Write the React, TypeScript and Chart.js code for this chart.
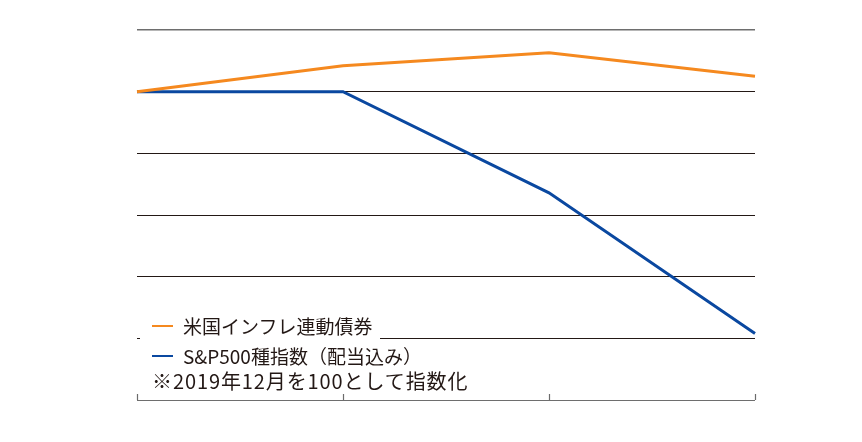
import React, { useEffect, useRef } from "react";
import { Chart, registerables } from "chart.js";

Chart.register(...registerables);

const categories = ["2019/12", "2020/12", "2021/12", "2022/12"];
const tipsValues = [100, 104.2, 106.3, 102.5];
const spValues = [100, 100, 83.6, 60.8];
const yMin = 50;
const yMax = 110;
const yStep = 10;
const tipsLabel = "米国インフレ連動債券";
const spLabel = "S&P500種指数（配当込み）";
const noteText = "※2019年12月を100として指数化";

const ORANGE = "#F5891F";
const BLUE = "#0A48A0";

const upTicks = {
  id: "upTicks",
  afterDraw(chart: any) {
    const x = chart.scales.x;
    const { ctx, chartArea } = chart;
    ctx.save();
    ctx.strokeStyle = "#6b6b6b";
    ctx.lineWidth = 1.2;
    categories.forEach((_, i) => {
      const px = Math.round(x.getPixelForValue(i)) + 0.5;
      ctx.beginPath();
      ctx.moveTo(px, chartArea.bottom);
      ctx.lineTo(px, chartArea.bottom - 6);
      ctx.stroke();
    });
    ctx.restore();
  },
};

export default function App() {
  const ref = useRef<HTMLCanvasElement>(null);
  useEffect(() => {
    const chart = new Chart(ref.current!, {
      type: "line",
      data: {
        labels: categories,
        datasets: [
          { label: tipsLabel, data: tipsValues, borderColor: ORANGE, borderWidth: 3, pointRadius: 0, tension: 0 },
          { label: spLabel, data: spValues, borderColor: BLUE, borderWidth: 3, pointRadius: 0, tension: 0 },
        ],
      },
      options: {
        animation: false,
        responsive: false,
        layout: { padding: { left: 137, right: 107, top: 30, bottom: 42 } },
        plugins: { legend: { display: false }, tooltip: { enabled: false } },
        scales: {
          x: {
            offset: false,
            ticks: { display: false },
            grid: { display: false, drawTicks: false },
            border: { display: false },
          },
          y: {
            min: yMin,
            max: yMax,
            ticks: { display: false, stepSize: yStep },
            grid: {
              drawTicks: false,
              color: (c: any) => (c.tick && (c.tick.value === yMax || c.tick.value === yMin) ? "#6e6e6e" : "#231815"),
              lineWidth: (c: any) => (c.tick && c.tick.value === yMax ? 1.5 : 1),
            },
            border: { display: false },
          },
        },
      },
      plugins: [upTicks],
    });
    return () => chart.destroy();
  }, []);

  const font = '"Noto Sans CJK JP", "Noto Sans", sans-serif';
  const row: React.CSSProperties = { position: "absolute", whiteSpace: "nowrap", fontSize: 19, lineHeight: "20px", color: "#231815", fontFamily: font };
  return (
    <div style={{ position: "fixed", left: 0, top: 0, width: 862, height: 442, background: "#fff" }}>
      <canvas ref={ref} width={862} height={442} style={{ display: "block" }} />
      <div style={{ position: "absolute", left: 140, top: 312, width: 240, height: 80, background: "#fff" }} />
      <div style={{ position: "absolute", left: 152, top: 325, width: 21, height: 2, background: ORANGE }} />
      <div style={{ ...row, left: 183, top: 316 }}>{tipsLabel}</div>
      <div style={{ position: "absolute", left: 152, top: 355, width: 21, height: 2, background: BLUE }} />
      <div style={{ ...row, left: 183, top: 346 }}>{spLabel}</div>
      <div style={{ ...row, fontSize: 20, left: 152, top: 371, letterSpacing: "0.9px" }}>{noteText}</div>
    </div>
  );
}
